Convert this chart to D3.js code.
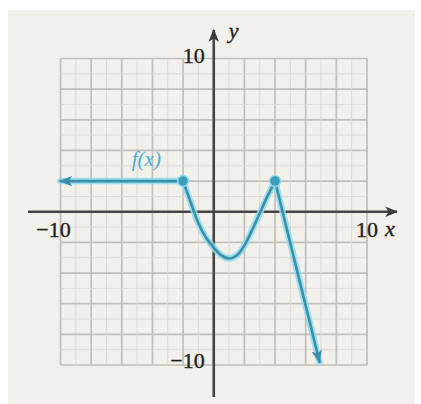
<!DOCTYPE html>
<html>
<head>
<meta charset="utf-8">
<script src="https://cdn.jsdelivr.net/npm/d3@7"></script>
<style>
  html, body { margin: 0; padding: 0; background: #ffffff; }
  svg { display: block; }
  text { font-family: "Liberation Serif", "DejaVu Serif", serif; }
</style>
</head>
<body>
<svg id="chart" width="421" height="404"></svg>
<script>
// Graph of a piecewise function f(x) on a [-10, 10] grid

// axis range and tick labels
const xDomain = [-10, 10];
const yDomain = [-10, 10];
const xTickLabels = [{ v: -10, t: "\u221210" }, { v: 10, t: "10" }];
const yTickLabels = [{ v: 10, t: "10" }, { v: -10, t: "\u221210" }];

// left ray: constant value, extends to the left
const rayLeftX = [-10, -2];
const rayLeftY = [2, 2];

// smooth valley between the two marked points
const valleyX = [-2, -1.5, -1, -0.5, 0, 0.5, 1, 1.5, 2, 2.5, 3, 3.5, 4];
const valleyY = [2, 0.6, -0.75, -1.7, -2.35, -2.85, -3.05, -2.85, -2.2, -1.2, -0.1, 1.0, 2];

// right ray: steep drop, extends downward
const rayRightX = [4, 6.9];
const rayRightY = [2, -9.8];

// marked points
const dotX = [-2, 4];
const dotY = [2, 2];

const svg = d3.select("#chart");

// panel background
svg.append("rect")
  .attr("x", 8).attr("y", 10)
  .attr("width", 407).attr("height", 394)
  .attr("fill", "#f2f0eb");

const x = d3.scaleLinear().domain(xDomain).range([60.5, 367]);
const y = d3.scaleLinear().domain(yDomain).range([365, 58.5]);

// grid: light lines every unit, darker every two units
const gridVals = d3.range(xDomain[0], xDomain[1] + 1, 1);
const grid = svg.append("g");
gridVals.forEach(v => {
  const major = v % 2 === 0;
  const col = major ? "#c2bfba" : "#dddad5";
  const w = major ? 1.7 : 1;
  grid.append("line")
    .attr("x1", x(v)).attr("x2", x(v))
    .attr("y1", y(yDomain[1])).attr("y2", y(yDomain[0]))
    .attr("stroke", col).attr("stroke-width", w);
  grid.append("line")
    .attr("y1", y(v)).attr("y2", y(v))
    .attr("x1", x(xDomain[0])).attr("x2", x(xDomain[1]))
    .attr("stroke", col).attr("stroke-width", w);
});

// arrow markers
const defs = svg.append("defs");
defs.append("marker")
  .attr("id", "axisArrow")
  .attr("viewBox", "0 0 10 10")
  .attr("refX", 9).attr("refY", 5)
  .attr("markerWidth", 5).attr("markerHeight", 5)
  .attr("markerUnits", "strokeWidth")
  .attr("orient", "auto")
  .append("path").attr("d", "M0,1 L10,5 L0,9 L2.5,5 Z").attr("fill", "#3a3a3a");
defs.append("marker")
  .attr("id", "curveArrow")
  .attr("viewBox", "0 0 10 10")
  .attr("refX", 9).attr("refY", 5)
  .attr("markerWidth", 5).attr("markerHeight", 5)
  .attr("markerUnits", "strokeWidth")
  .attr("orient", "auto")
  .append("path").attr("d", "M0,1 L10,5 L0,9 L2.5,5 Z").attr("fill", "#3b8fa7");

// axes
const axes = svg.append("g").attr("stroke", "#444").attr("stroke-width", 2.6);
axes.append("line")
  .attr("x1", 28).attr("x2", 397)
  .attr("y1", y(0)).attr("y2", y(0))
  .attr("marker-end", "url(#axisArrow)");
axes.append("line")
  .attr("x1", x(0)).attr("x2", x(0))
  .attr("y1", 397).attr("y2", 30)
  .attr("marker-end", "url(#axisArrow)");

// tick labels
const labels = svg.append("g")
  .attr("fill", "#222").attr("stroke", "#222").attr("stroke-width", 0.35)
  .attr("font-size", 22);
xTickLabels.forEach(d => {
  labels.append("text")
    .attr("x", d.v < 0 ? x(d.v) - 7 : x(d.v) + 11)
    .attr("y", y(0) + 25)
    .attr("text-anchor", d.v < 0 ? "middle" : "end")
    .text(d.t);
});
yTickLabels.forEach(d => {
  labels.append("text")
    .attr("x", x(0) - 9)
    .attr("y", y(d.v) + (d.v > 0 ? 4 : 3))
    .attr("text-anchor", "end")
    .text(d.t);
});
labels.append("text")
  .attr("x", x(10) + 18).attr("y", y(0) + 24)
  .attr("font-style", "italic")
  .text("x");
labels.append("text")
  .attr("x", x(0) + 15).attr("y", 38)
  .attr("font-style", "italic")
  .text("y");

// function graph
const toPts = (xs, ys) => xs.map((v, i) => [v, ys[i]]);
const straight = d3.line().x(d => x(d[0])).y(d => y(d[1]));
const smooth = d3.line().x(d => x(d[0])).y(d => y(d[1])).curve(d3.curveCatmullRom.alpha(0.5));

const leftPts = toPts(rayLeftX, rayLeftY).reverse();
const valleyPts = toPts(valleyX, valleyY);
const rightPts = toPts(rayRightX, rayRightY);

const graph = svg.append("g").attr("fill", "none").attr("stroke-linecap", "round");
// soft cyan halo
[[straight, leftPts], [smooth, valleyPts], [straight, rightPts]].forEach(([gen, pts]) => {
  graph.append("path").attr("d", gen(pts))
    .attr("stroke", "#8fdcef").attr("stroke-width", 6.5).attr("stroke-opacity", 0.85);
});
// core stroke
graph.append("path").attr("d", straight(leftPts))
  .attr("stroke", "#3b8fa7").attr("stroke-width", 2.6)
  .attr("marker-end", "url(#curveArrow)");
graph.append("path").attr("d", smooth(valleyPts))
  .attr("stroke", "#3b8fa7").attr("stroke-width", 2.6);
graph.append("path").attr("d", straight(rightPts))
  .attr("stroke", "#3b8fa7").attr("stroke-width", 2.6)
  .attr("marker-end", "url(#curveArrow)");

// marked points
svg.append("g").selectAll("circle")
  .data(toPts(dotX, dotY))
  .join("circle")
  .attr("cx", d => x(d[0])).attr("cy", d => y(d[1]))
  .attr("r", 5.5)
  .attr("fill", "#3d9cb8")
  .attr("stroke", "#8fdcef").attr("stroke-width", 1.5);

// function label
svg.append("text")
  .attr("x", x(-4.4)).attr("y", y(2) - 15)
  .attr("text-anchor", "middle")
  .attr("font-size", 21)
  .attr("font-style", "italic")
  .attr("fill", "#4aaed0")
  .text("f(x)");
</script>
</body>
</html>
